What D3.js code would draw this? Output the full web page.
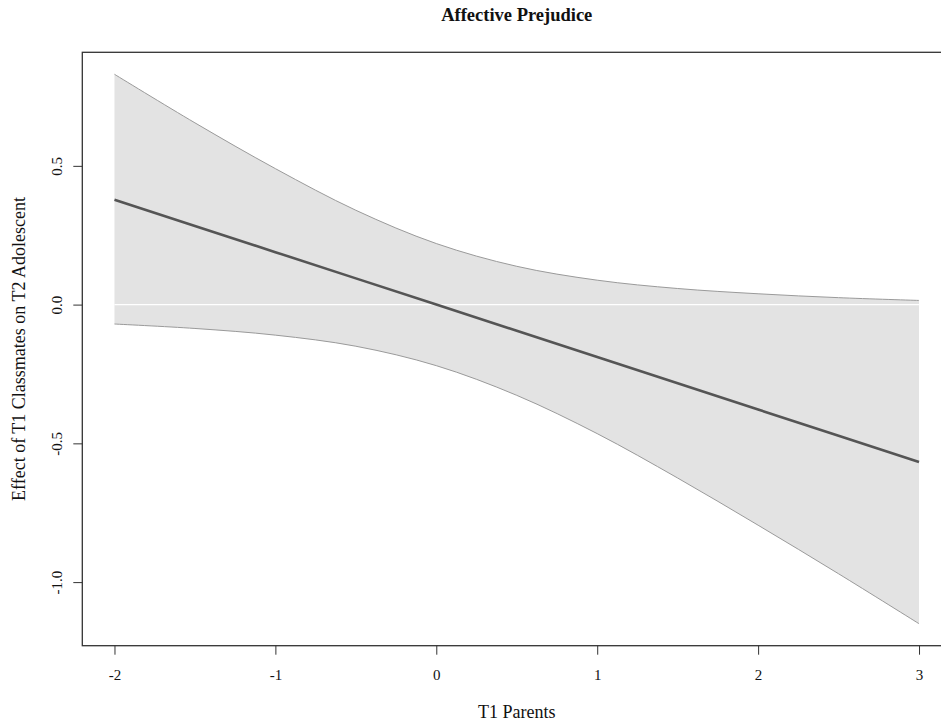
<!DOCTYPE html>
<html>
<head>
<meta charset="utf-8">
<script src="https://cdn.jsdelivr.net/npm/d3@7"></script>
<style>
  body { margin: 0; background: #fff; }
  svg { display: block; font-family: "Liberation Serif", "DejaVu Serif", serif; }
</style>
</head>
<body>
<svg width="941" height="724"></svg>
<script>
// values
title = "Affective Prejudice";
xLabel = "T1 Parents";
yLabel = "Effect of T1 Classmates on T2 Adolescent";

moderator = [-2, -1.5, -1, -0.5, 0, 0.5, 1, 1.5, 2, 2.5, 3];
upperCI   = [0.83, 0.655, 0.49, 0.34, 0.22, 0.138, 0.088, 0.058, 0.039, 0.025, 0.015];
lowerCI   = [-0.07, -0.086, -0.11, -0.15, -0.22, -0.327, -0.465, -0.625, -0.795, -0.97, -1.15];
effect    = [0.378, 0.2835, 0.189, 0.0945, 0, -0.0945, -0.189, -0.2835, -0.378, -0.4725, -0.567];

xTicks = [-2, -1, 0, 1, 2, 3];
yTicks = [-1.0, -0.5, 0.0, 0.5];

// plot region (R style: 4% padding on each side)
const pLeft = 82.3, pRight = 951.2, pTop = 52.3, pBottom = 645.7;

function pad(ext) {
  const d = (ext[1] - ext[0]) * 0.04;
  return [ext[0] - d, ext[1] + d];
}

const x = d3.scaleLinear()
    .domain(pad(d3.extent(moderator)))
    .range([pLeft, pRight]);

const y = d3.scaleLinear()
    .domain(pad([d3.min(lowerCI), d3.max(upperCI)]))
    .range([pBottom, pTop]);

const rows = moderator.map((m, i) => ({m: m, lo: lowerCI[i], hi: upperCI[i], b: effect[i]}));

// R prints plain hyphens
const hy = f => d => f(d).replace("\u2212", "-");

const svg = d3.select("svg");

// confidence band
svg.append("path")
    .datum(rows)
    .attr("fill", "#e3e3e3")
    .attr("stroke", "none")
    .attr("d", d3.area()
      .x(d => x(d.m))
      .y0(d => y(d.lo))
      .y1(d => y(d.hi))
      .curve(d3.curveCatmullRom.alpha(0.5)));

// band outlines
["hi", "lo"].forEach(function(k) {
  svg.append("path")
      .datum(rows)
      .attr("fill", "none")
      .attr("stroke", "#9a9a9a")
      .attr("stroke-width", 1)
      .attr("d", d3.line()
        .x(d => x(d.m))
        .y(d => y(d[k]))
        .curve(d3.curveCatmullRom.alpha(0.5)));
});

// zero line
svg.append("line")
    .attr("x1", x(moderator[0]))
    .attr("x2", x(moderator[moderator.length - 1]))
    .attr("y1", y(0))
    .attr("y2", y(0))
    .attr("stroke", "#fff")
    .attr("stroke-width", 1.2);

// effect line
svg.append("path")
    .datum(rows)
    .attr("fill", "none")
    .attr("stroke", "#555")
    .attr("stroke-width", 2.6)
    .attr("d", d3.line().x(d => x(d.m)).y(d => y(d.b)));

// box
svg.append("rect")
    .attr("x", pLeft)
    .attr("y", pTop)
    .attr("width", pRight - pLeft)
    .attr("height", pBottom - pTop)
    .attr("fill", "none")
    .attr("stroke", "#333")
    .attr("stroke-width", 1.3);

// x axis
const gx = svg.append("g")
    .attr("transform", `translate(0,${pBottom})`)
    .call(d3.axisBottom(x).tickValues(xTicks).tickSize(9).tickFormat(hy(d3.format("d"))));
gx.select(".domain").remove();
gx.selectAll(".tick line").attr("stroke", "#333");
gx.selectAll(".tick text")
    .attr("font-family", "Liberation Serif, serif")
    .attr("font-size", 15)
    .attr("fill", "#111")
    .attr("dy", null)
    .attr("y", 680 - pBottom);

// y axis
const gy = svg.append("g")
    .attr("transform", `translate(${pLeft},0)`)
    .call(d3.axisLeft(y).tickValues(yTicks).tickSize(9).tickFormat(hy(d3.format(".1f"))));
gy.select(".domain").remove();
gy.selectAll(".tick line").attr("stroke", "#333");
gy.selectAll(".tick text")
    .attr("font-family", "Liberation Serif, serif")
    .attr("font-size", 15)
    .attr("fill", "#111")
    .attr("x", null)
    .attr("dy", null)
    .attr("text-anchor", "middle")
    .attr("transform", `translate(${62 - pLeft},0) rotate(-90)`);

// titles
const cx = (pLeft + pRight) / 2;
svg.append("text")
    .attr("x", cx)
    .attr("y", 21)
    .attr("text-anchor", "middle")
    .attr("font-size", 18.5)
    .attr("font-weight", "bold")
    .attr("fill", "#111")
    .text(title);

svg.append("text")
    .attr("x", cx)
    .attr("y", 718)
    .attr("text-anchor", "middle")
    .attr("font-size", 18)
    .attr("fill", "#111")
    .text(xLabel);

svg.append("text")
    .attr("transform", `translate(25,${(pTop + pBottom) / 2}) rotate(-90)`)
    .attr("text-anchor", "middle")
    .attr("font-size", 18)
    .attr("fill", "#111")
    .text(yLabel);
</script>
</body>
</html>
